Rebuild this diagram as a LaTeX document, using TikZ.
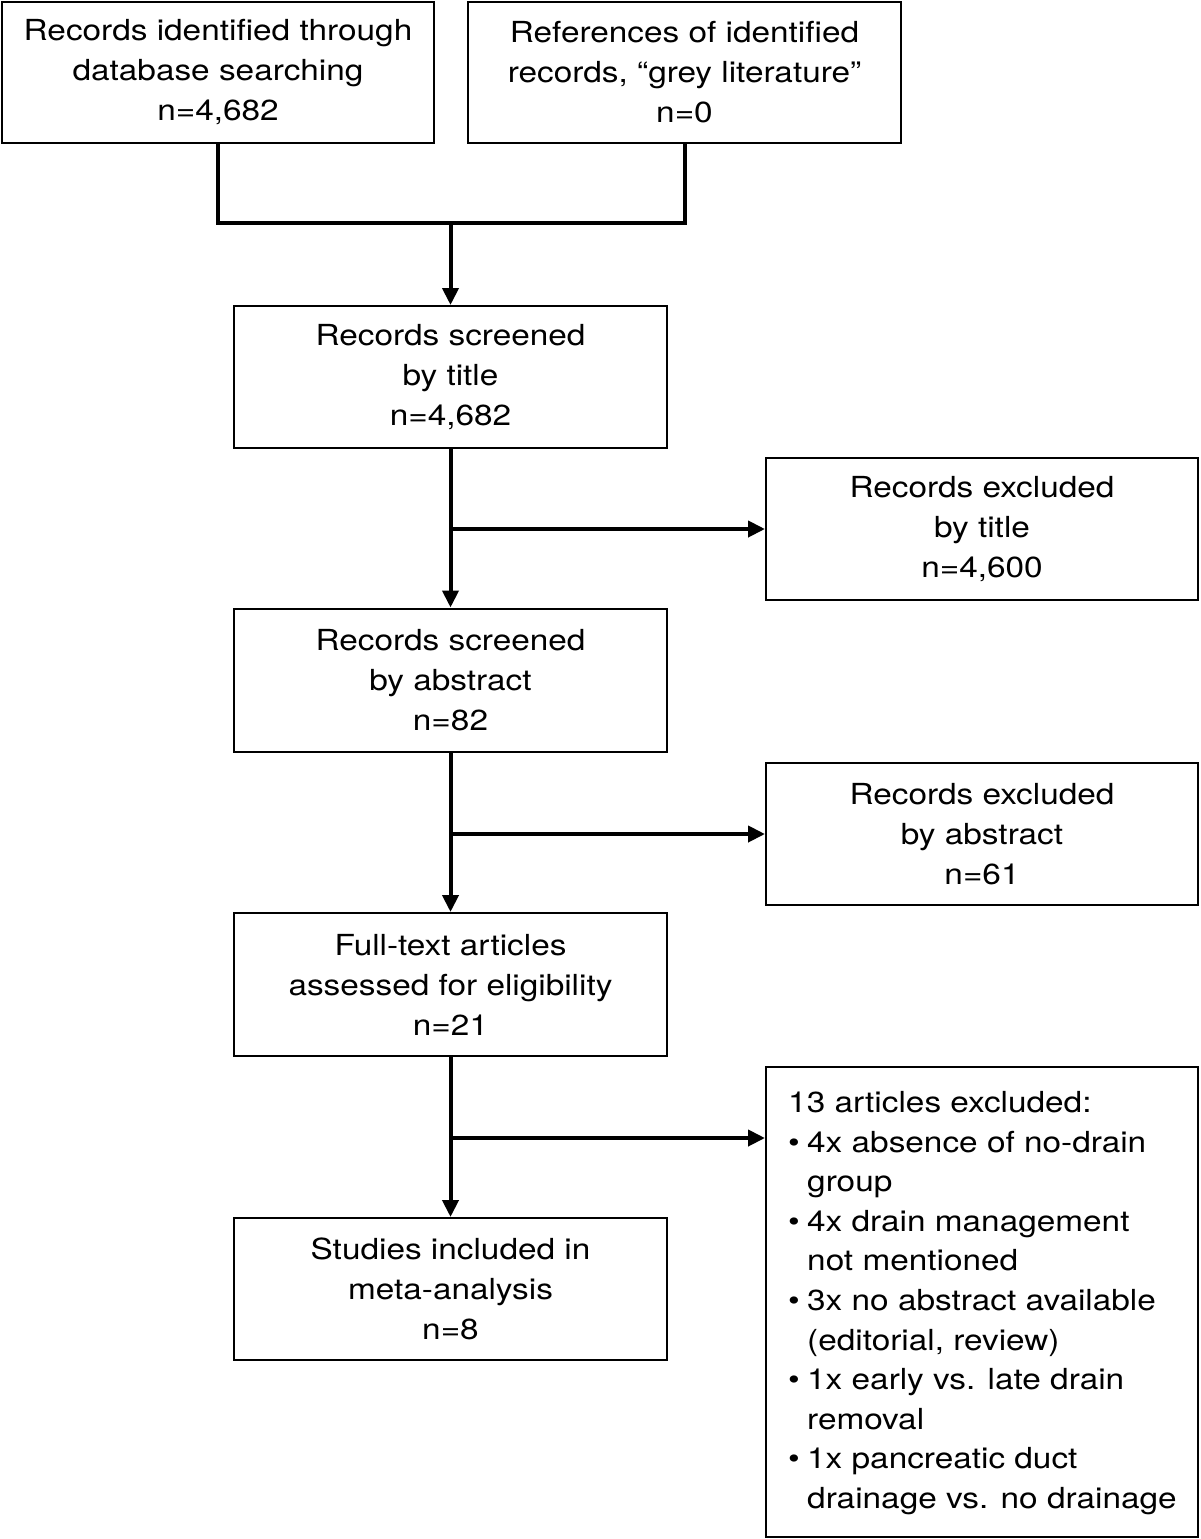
\documentclass[tikz,border=0pt]{standalone}
\usepackage{fontspec}
\setmainfont{TeX Gyre Heros}[FakeStretch=1.15]
\usetikzlibrary{arrows.meta}
\begin{document}
\begin{tikzpicture}[x=1pt,y=-1pt,
  box/.style={draw, line width=2pt, inner sep=0pt, align=center,
    minimum width=432pt, minimum height=142pt,
    font=\fontsize{29}{40}\selectfont},
  conn/.style={line width=4pt},
  arr/.style={line width=4pt, -{Triangle[length=17pt,width=16pt]}}]
\useasboundingbox (0,0) rectangle (1200,1539);
\node[box, minimum height=141pt] (A) at (218,72.5) {Records identified through\\database searching\\n=4,682};
\node[box, minimum height=141pt, minimum width=433pt] (B) at (684.5,72.5) {References of identified\\records, “grey literature”\\n=0};
\node[box, minimum width=433pt] (C) at (450.5,377) {Records screened\\by title\\n=4,682};
\node[box] (D) at (982,529) {Records excluded\\by title\\n=4,600};
\node[box, minimum width=433pt, minimum height=143pt] (E) at (450.5,680) {Records screened\\by abstract\\n=82};
\node[box] (F) at (982,834) {Records excluded\\by abstract\\n=61};
\node[box, minimum width=433pt, minimum height=143pt] (G) at (450.5,984.5) {Full-text articles\\assessed for eligibility\\n=21};
\node[box, minimum width=433pt] (I) at (450.5,1289) {Studies included in\\meta-analysis\\n=8};
\node[box, minimum height=470pt] (H) at (982,1302) {};
\node[inner sep=0pt, anchor=north west, align=left, font=\fontsize{29}{39.6}\selectfont] (Ht) at (788,1091.2)
  {13 articles excluded:\\
   \makebox[19pt][l]{\textbullet}4x absence of no-drain\\
   \hspace*{19pt}group\\
   \makebox[19pt][l]{\textbullet}4x drain management\\
   \hspace*{19pt}not mentioned\\
   \makebox[19pt][l]{\textbullet}3x no abstract available\\
   \hspace*{19pt}(editorial, review)\\
   \makebox[19pt][l]{\textbullet}1x early vs. late drain\\
   \hspace*{19pt}removal\\
   \makebox[19pt][l]{\textbullet}1x pancreatic duct\\
   \hspace*{19pt}drainage vs. no drainage};
\coordinate (j) at (450.5,223);
\draw[conn] (A.south) -- (A.south |- j) -- (B.south |- j) -- (B.south);
\draw[arr] (j) -- (C.north);
\draw[arr] (C.south) -- (E.north);
\draw[arr] (C.south |- D.west) -- (D.west);
\draw[arr] (E.south) -- (G.north);
\draw[arr] (E.south |- F.west) -- (F.west);
\draw[arr] (G.south) -- (I.north);
\coordinate (hb) at (450.5,1138);
\draw[arr] (hb) -- (hb -| H.west);
\end{tikzpicture}
\end{document}
